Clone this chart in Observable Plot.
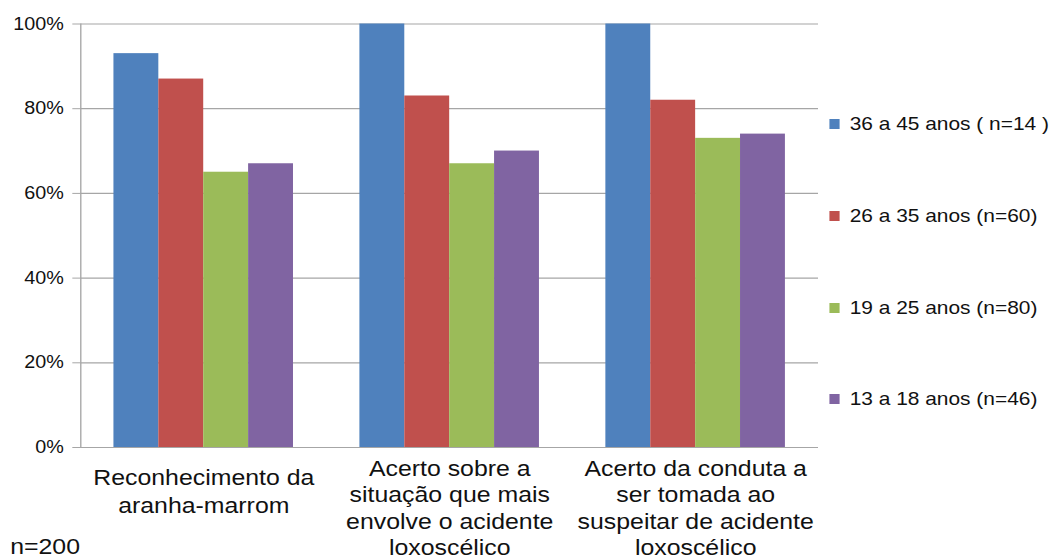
<!DOCTYPE html>
<html>
<head>
<meta charset="utf-8">
<script src="https://cdn.jsdelivr.net/npm/d3@7"></script>
<script src="https://cdn.jsdelivr.net/npm/@observablehq/plot@0.6"></script>
<style>
  html, body { margin: 0; padding: 0; background: #fff; }
  body { width: 1052px; height: 560px; overflow: hidden; }
  #figure {
    position: relative;
    height: 560px;
    transform-origin: 0 0;
    font-family: "Liberation Sans", Arial, Helvetica, sans-serif;
    color: #111;
  }
  #chart { position: absolute; left: 0; top: 0; width: 724px; height: 560px; }
  #chart svg { position: absolute; left: 0; top: 0; }
  #legend { position: absolute; left: 734px; top: 0; }
  .row { position: absolute; left: 0; display: flex; align-items: center; white-space: nowrap; font-size: 18.5px; }
  .swatch { width: 8.9px; height: 10px; margin-right: 9px; }
  #note { position: absolute; left: 9px; top: 534px; font-size: 22px; }
</style>
</head>
<body>
<div id="figure">
  <div id="chart"></div>
  <div id="legend"></div>
  <div id="note">n=200</div>
</div>
<script>
// Questions asked (multi-line labels)
const categories = [
  "Reconhecimento da\naranha-marrom",
  "Acerto sobre a\nsituação que mais\nenvolve o acidente\nloxoscélico",
  "Acerto da conduta a\nser tomada ao\nsuspeitar de acidente\nloxoscélico"
];
// Age groups
const groups = ["36 a 45 anos ( n=14 )", "26 a 35 anos (n=60)", "19 a 25 anos (n=80)", "13 a 18 anos (n=46)"];
// Percent of correct answers per age group, one value per question
const pct36to45 = [93, 100, 100];
const pct26to35 = [87, 83, 82];
const pct19to25 = [65, 67, 73];
const pct13to18 = [67, 70, 74];
const yTicks = [0, 20, 40, 60, 80, 100];
const palette = ["#4F81BD", "#C0504D", "#9BBB59", "#8064A2"];

const series = [pct36to45, pct26to35, pct19to25, pct13to18];
const rows = [];
categories.forEach((c, i) => groups.forEach((g, j) => rows.push({category: c, group: g, value: series[j][i]})));

// The figure is laid out narrower and stretched horizontally to its full width
const STRETCH = 1.13;
const W = 1052 / STRETCH;
document.getElementById("figure").style.width = W + "px";
document.getElementById("figure").style.transform = `scaleX(${STRETCH})`;

const grid = "#a6a6a6";
const font = "'Liberation Sans', Arial, Helvetica, sans-serif";
const frameOpts = {
  width: 724,
  height: 560,
  marginLeft: 71,
  marginRight: 0,
  marginTop: 23.5,
  marginBottom: 113,
  style: {fontFamily: font, background: "transparent", color: "#111"}
};

// Back layer: gridlines and the value axis, spanning the whole plot area
const back = Plot.plot({
  ...frameOpts,
  y: {domain: [0, 100], axis: null},
  marks: [
    Plot.ruleY(yTicks, {stroke: grid, strokeWidth: 1.2}),
    Plot.axisY(yTicks, {tickSize: 7, tickPadding: 8, stroke: grid, fill: "#111", fontSize: 17.5, tickFormat: d => d + "%", label: null}),
    Plot.frame({anchor: "left", stroke: grid, strokeWidth: 1.2})
  ]
});

// Front layer: grouped bars faceted by question, with the question labels
const twoLine = categories.filter(c => c.split("\n").length <= 2);
const manyLine = categories.filter(c => c.split("\n").length > 2);
const front = Plot.plot({
  ...frameOpts,
  fx: {domain: categories, paddingInner: 0.27, paddingOuter: 0.135, round: false, axis: null, label: null},
  x: {domain: groups, padding: 0, round: false, axis: null},
  y: {domain: [0, 100], axis: null},
  color: {domain: groups, range: palette},
  marks: [
    Plot.barY(rows, {fx: "category", x: "group", y: "value", fill: "group"}),
    Plot.text(twoLine, {fx: d => d, text: d => d, frameAnchor: "bottom", lineAnchor: "top", dy: 17, fontSize: 22, lineHeight: 1.3, fill: "#111"}),
    Plot.text(manyLine, {fx: d => d, text: d => d, frameAnchor: "bottom", lineAnchor: "top", dy: 9.5, fontSize: 22, lineHeight: 1.2, fill: "#111"})
  ]
});
document.getElementById("chart").appendChild(back);
document.getElementById("chart").appendChild(front);

// Legend, one row per age group
const legend = document.getElementById("legend");
const rowCenters = [124.3, 216, 307.7, 399.4];
groups.forEach((g, i) => {
  const row = document.createElement("div");
  row.className = "row";
  row.style.top = (rowCenters[i] - 12) + "px";
  row.style.height = "24px";
  const sw = document.createElement("span");
  sw.className = "swatch";
  sw.style.background = palette[i];
  const label = document.createElement("span");
  label.textContent = g;
  row.appendChild(sw);
  row.appendChild(label);
  legend.appendChild(row);
});
</script>
</body>
</html>
